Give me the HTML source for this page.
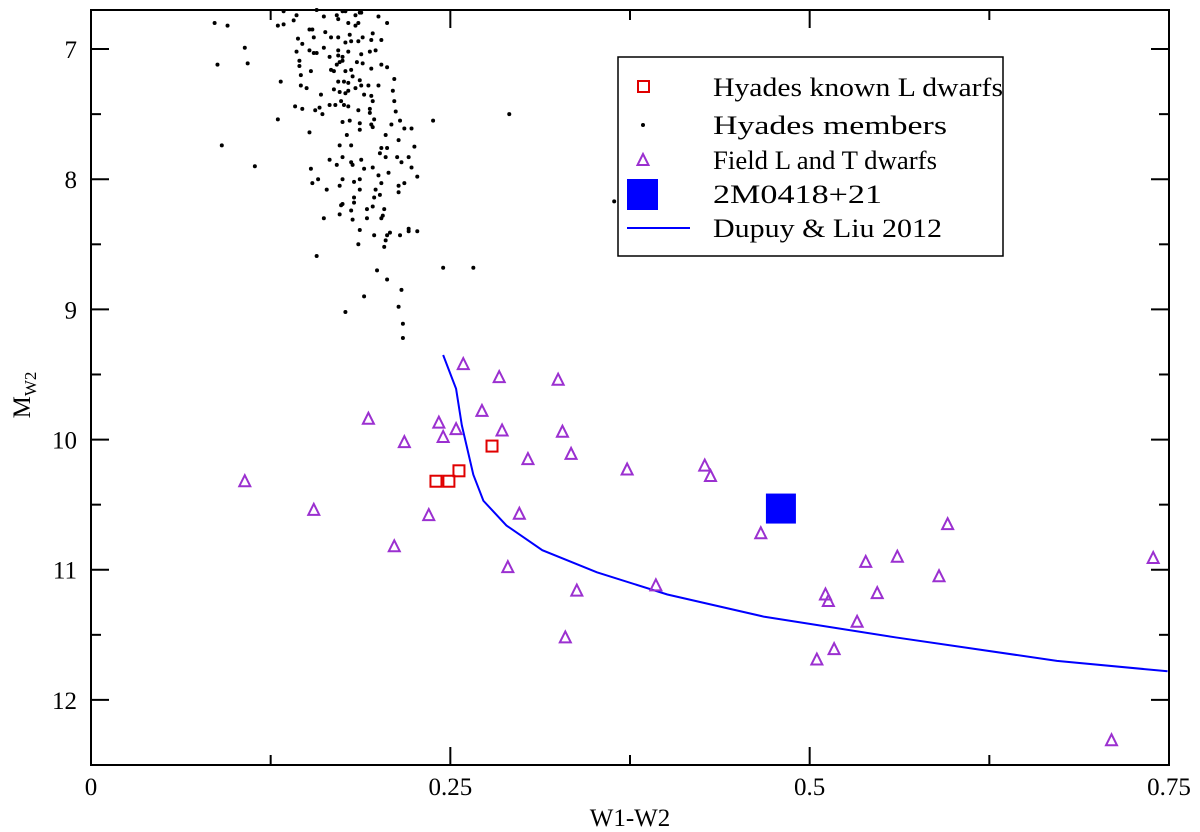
<!DOCTYPE html>
<html><head><meta charset="utf-8"><style>
html,body{margin:0;padding:0;background:#fff;}
svg{display:block;font-family:"Liberation Serif",serif;}
</style></head><body>
<svg id="chart" width="1200" height="832" viewBox="0 0 1200 832" xmlns="http://www.w3.org/2000/svg"></svg>
<script>
const xTicks=[0,0.25,0.5,0.75];
const xTickLabels=["0","0.25","0.5","0.75"];
const yTicks=[7,8,9,10,11,12];
const yTickLabels=["7","8","9","10","11","12"];
const membersX=[.086,.095,.088,.107,.109,.091,.114,.132,.130,.130,.134,.141,.143,.134,.157,.162,.171,.172,.175,.177,.184,.187,.188,.200,.206,.179,.184,.186,.152,.154,.163,.144,.147,.155,.167,.172,.177,.180,.181,.186,.189,.196,.195,.202,.143,.152,.155,.157,.162,.166,.172,.172,.175,.179,.188,.194,.198,.145,.145,.146,.153,.167,.169,.171,.173,.175,.177,.181,.185,.189,.195,.202,.206,.211,.172,.176,.179,.182,.187,.188,.193,.200,.210,.146,.150,.160,.169,.173,.177,.179,.184,.190,.195,.196,.211,.142,.147,.156,.159,.161,.166,.170,.174,.176,.179,.186,.194,.194,.212,.197,.175,.180,.187,.195,.196,.209,.215,.218,.223,.238,.152,.178,.187,.205,.173,.181,.202,.206,.201,.214,.225,.166,.171,.175,.181,.182,.188,.190,.196,.205,.213,.216,.221,.223,.153,.154,.158,.164,.173,.175,.183,.187,.187,.198,.200,.202,.207,.214,.214,.218,.227,.183,.183,.174,.175,.181,.196,.197,.201,.192,.204,.162,.173,.182,.192,.202,.203,.187,.197,.206,.208,.215,.221,.221,.227,.186,.205,.204,.157,.199,.206,.216,.190,.177,.214,.217,.217,.245,.266,.291,.364];
const membersY=[6.80,6.82,7.12,6.99,7.11,7.74,7.90,7.25,7.54,6.82,6.81,6.78,6.74,6.71,6.70,6.75,6.74,6.77,6.71,6.71,6.74,6.72,6.72,6.75,6.80,6.80,6.82,6.80,6.85,6.85,6.87,6.92,6.96,6.91,6.91,6.91,6.95,6.89,6.94,6.94,6.91,6.88,6.93,6.93,7.02,7.01,7.03,7.03,6.99,7.06,7.01,7.05,7.06,7.02,7.04,7.02,7.01,7.09,7.13,7.20,7.17,7.16,7.17,7.12,7.10,7.09,7.17,7.16,7.10,7.11,7.15,7.12,7.14,7.23,7.25,7.25,7.26,7.21,7.24,7.28,7.28,7.28,7.32,7.28,7.30,7.35,7.31,7.33,7.34,7.32,7.30,7.35,7.36,7.40,7.40,7.44,7.46,7.47,7.45,7.50,7.43,7.43,7.40,7.43,7.44,7.47,7.46,7.49,7.48,7.54,7.56,7.55,7.57,7.58,7.60,7.58,7.55,7.61,7.61,7.55,7.64,7.66,7.62,7.66,7.74,7.74,7.76,7.76,7.80,7.70,7.75,7.85,7.89,7.83,7.87,7.89,7.85,7.92,7.91,7.83,7.83,7.87,7.83,7.91,7.92,8.03,8.00,8.08,8.05,8.00,8.02,8.00,8.08,8.08,7.97,8.03,7.95,8.05,8.10,8.03,7.98,8.14,8.18,8.20,8.19,8.24,8.21,8.14,8.12,8.23,8.23,8.30,8.27,8.31,8.30,8.30,8.28,8.39,8.43,8.43,8.41,8.43,8.38,8.40,8.40,8.50,8.47,8.52,8.59,8.70,8.77,8.85,8.90,9.02,8.98,9.11,9.22,8.68,8.68,7.50,8.17];
const fieldX=[.107,.155,.193,.211,.218,.235,.242,.245,.254,.259,.272,.284,.286,.290,.298,.304,.325,.328,.330,.334,.338,.373,.393,.427,.431,.466,.505,.511,.513,.517,.533,.539,.547,.561,.590,.596,.710,.739];
const fieldY=[10.32,10.54,9.84,10.82,10.02,10.58,9.87,9.98,9.92,9.42,9.78,9.52,9.93,10.98,10.57,10.15,9.54,9.94,11.52,10.11,11.16,10.23,11.12,10.20,10.28,10.72,11.69,11.19,11.24,11.61,11.40,10.94,11.18,10.90,11.05,10.65,12.31,10.91];
const lDwarfX=[.240,.249,.256,.279];
const lDwarfY=[10.32,10.32,10.24,10.05];
const targetX=[.480];
const targetY=[10.53];
const modelX=[.245,.254,.258,.266,.273,.289,.314,.352,.401,.468,.560,.672,.749];
const modelY=[9.35,9.61,9.89,10.27,10.47,10.66,10.85,11.02,11.19,11.36,11.52,11.70,11.78];

const L=91,R=1169,T=10,B=765;
const xMin=0,xMax=0.75,yMin=6.7,yMax=12.5;
function sx(v){return L+(v-xMin)/(xMax-xMin)*(R-L);}
function sy(v){return T+(v-yMin)/(yMax-yMin)*(B-T);}
const NS="http://www.w3.org/2000/svg";
const svg=document.getElementById('chart');
function mk(tag,attrs,parent){const e=document.createElementNS(NS,tag);for(const k in attrs)e.setAttribute(k,attrs[k]);(parent||svg).appendChild(e);return e;}

const gm=mk('g',{});


membersX.forEach((x,i)=>{const c=mk('circle',{cx:sx(x),cy:sy(membersY[i]),r:2,fill:'#000'},gm);

});

const pl=mk('polyline',{points:modelX.map((x,i)=>sx(x)+','+sy(modelY[i])).join(' '),fill:'none',stroke:'#0000ff','stroke-width':2});



const gf=mk('g',{});


function tri(cx,cy,p){const h=6;return mk('polygon',{points:`${cx},${cy-h} ${cx-5.5},${cy+h-1} ${cx+5.5},${cy+h-1}`,fill:'none',stroke:'#9b30d0','stroke-width':2},p);}
fieldX.forEach((x,i)=>{const t=tri(sx(x),sy(fieldY[i]),gf);

});

const gl=mk('g',{});


lDwarfX.forEach((x,i)=>{const r=mk('rect',{x:sx(x)-5.5,y:sy(lDwarfY[i])-5.5,width:11,height:11,fill:'none',stroke:'#e00000','stroke-width':2},gl);

});

targetX.forEach((x,i)=>{const r=mk('rect',{x:sx(x)-15,y:sy(targetY[i])-15,width:30,height:30,fill:'#0000ff'});

});

const ga=mk('g',{stroke:'#000','stroke-width':2});


mk('rect',{x:L,y:T,width:R-L,height:B-T,fill:'none'},ga);
for(let v=0;v<=0.75001;v+=0.125){const x=sx(v);const len=(Math.abs(v/0.25-Math.round(v/0.25))<1e-6)?18:10;
mk('line',{x1:x,y1:B,x2:x,y2:B-len},ga);mk('line',{x1:x,y1:T,x2:x,y2:T+len},ga);}
for(let v=7;v<=12.5001;v+=0.5){const y=sy(v);const len=(Math.abs(v-Math.round(v))<1e-6)?18:10;
mk('line',{x1:L,y1:y,x2:L+len,y2:y},ga);mk('line',{x1:R,y1:y,x2:R-len,y2:y},ga);}
xTicks.forEach((v,i)=>{const t=mk('text',{x:sx(v),y:795,'font-size':25,'text-anchor':'middle'});t.textContent=xTickLabels[i];

});
yTicks.forEach((v,i)=>{const t=mk('text',{x:77,y:sy(v)+9,'font-size':25,'text-anchor':'end'});t.textContent=yTickLabels[i];

});
const xt=mk('text',{x:630,y:826,'font-size':25,'text-anchor':'middle'});xt.textContent='W1-W2';


const yt=mk('text',{transform:'translate(30,395) rotate(-90)','font-size':25,'text-anchor':'middle'});
yt.innerHTML='M<tspan font-size="17" dy="6">W2</tspan>';



const lg=mk('g',{});


mk('rect',{x:618,y:57,width:385,height:199,fill:'#fff',stroke:'#000','stroke-width':1.5},lg);
const rows=[87,125,160,194,228];
const labels=['Hyades known L dwarfs','Hyades members','Field L and T  dwarfs','2M0418+21','Dupuy & Liu 2012'];
const widths=[290,234,224,169,229];
mk('rect',{x:638,y:rows[0]-6,width:11,height:11,fill:'none',stroke:'#e00000','stroke-width':2},lg);
mk('circle',{cx:643,cy:rows[1],r:2,fill:'#000'},lg);
tri(643,rows[2],lg);
mk('rect',{x:627,y:rows[3]-15,width:31,height:31,fill:'#0000ff'},lg);
mk('line',{x1:627,y1:rows[4],x2:690,y2:rows[4],stroke:'#0000ff','stroke-width':2},lg);
labels.forEach((s,i)=>{const t=mk('text',{x:713,y:rows[i]+9,'font-size':26,textLength:widths[i],lengthAdjust:'spacingAndGlyphs'},lg);t.textContent=s;

});
</script>
</body></html>
